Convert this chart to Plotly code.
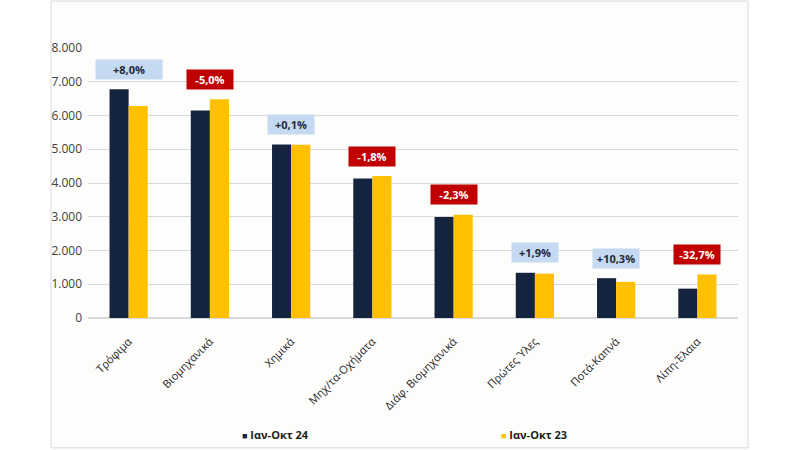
import plotly.graph_objects as go

categories = ["Τρόφιμα", "Βιομηχανικά", "Χημικά", "Μηχ/τα-Οχήματα",
              "Διάφ. Βιομηχανικά", "Πρώτες Ύλες", "Ποτά-Καπνά", "Λίπη-Έλαια"]
series_names = ["Ιαν-Οκτ 24", "Ιαν-Οκτ 23"]
values_24 = [6780, 6150, 5140, 4130, 2990, 1340, 1180, 870]
values_23 = [6280, 6480, 5135, 4205, 3060, 1315, 1070, 1290]
change_labels = ["+8,0%", "-5,0%", "+0,1%", "-1,8%", "-2,3%", "+1,9%", "+10,3%", "-32,7%"]
y_ticks = [0, 1000, 2000, 3000, 4000, 5000, 6000, 7000, 8000]

NAVY = "#14243f"
GOLD = "#ffc000"
FONT = "Open Sans"

fig = go.Figure()
colors = [NAVY, GOLD]
for name, vals, col in zip(series_names, [values_24, values_23], colors):
    fig.add_trace(go.Bar(x=categories, y=vals, name=name, showlegend=False,
                         marker=dict(color=col, line=dict(width=0))))
# legend-only entries: small coloured square drawn as text glyph
for name, col in zip(series_names, colors):
    fig.add_trace(go.Scatter(
        x=[None], y=[None], mode="markers",
        name=f'<span style="color:{col};font-size:9px">■</span> {name}',
        marker=dict(symbol="square", size=1, color="rgba(0,0,0,0)")))

for i, (cat, lab) in enumerate(zip(categories, change_labels)):
    top = max(values_24[i], values_23[i])
    neg = lab.startswith("-")
    fig.add_annotation(
        x=cat, y=top, xref="x", yref="y", text=f"<b>{lab}</b>",
        showarrow=False, yanchor="middle", yshift=20,
        bgcolor="#c00000" if neg else "#c5d9f1",
        font=dict(family=FONT, size=11, color="#ffffff" if neg else "#1f2a3c"),
        width=62 if i == 0 else 42, height=15, borderpad=2,
    )

# outer frame
fig.add_shape(type="rect", xref="paper", yref="paper",
              x0=-0.0569, x1=1.0154, y0=-0.481, y1=1.174,
              line=dict(color="#d9d9d9", width=1), fillcolor="#fdfdfc", layer="below")

fig.update_layout(
    width=800, height=450,
    margin=dict(l=88, r=62, t=48, b=132, autoexpand=False),
    paper_bgcolor="#ffffff", plot_bgcolor="rgba(0,0,0,0)",
    barmode="group", bargap=0.53, bargroupgap=0,
    separators=",.",
    font=dict(family=FONT, size=11, color="#404040"),
    showlegend=True,
    legend=dict(orientation="h", xref="container", yref="container",
                x=0.2525, y=0.035, xanchor="left", yanchor="middle",
                entrywidth=214, entrywidthmode="pixels", itemwidth=30,
                font=dict(family=FONT, size=11, color="#1f1f1f", weight="bold"),
                bgcolor="rgba(0,0,0,0)"),
)
fig.update_yaxes(range=[0, 8000], tickvals=y_ticks, tickformat=",.0f",
                 showgrid=True, gridcolor="#d9d9d9", gridwidth=1,
                 zeroline=True, zerolinecolor="#d9d9d9", showline=False,
                 ticks="", ticklabelstandoff=5,
                 tickfont=dict(size=12, color="#404040"))
fig.update_xaxes(tickangle=-45, showgrid=False, showline=False, ticks="",
                 ticklabelstandoff=14,
                 tickfont=dict(size=11, color="#262626"))

fig.write_html("out.html", config={"displayModeBar": False},
               post_script="document.body.style.margin='0';document.body.style.padding='0';")
